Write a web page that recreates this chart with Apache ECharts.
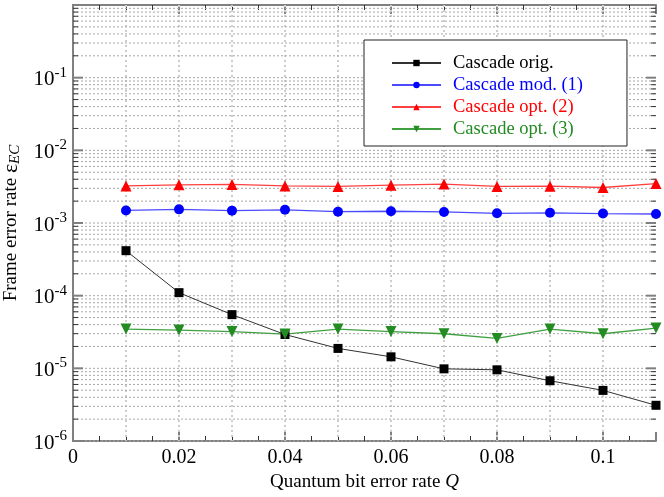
<!DOCTYPE html>
<html>
<head>
<meta charset="utf-8">
<script src="https://cdn.jsdelivr.net/npm/echarts@6/dist/echarts.min.js"></script>
<style>html,body{margin:0;padding:0;background:#fff;}#c{width:664px;height:497px;}</style>
</head>
<body>
<div id="c"></div>
<script>
const qValues = [0.01, 0.02, 0.03, 0.04, 0.05, 0.06, 0.07, 0.08, 0.09, 0.10, 0.11];
const cascadeOrig = [4.16e-4, 1.10e-4, 5.48e-5, 2.92e-5, 1.88e-5, 1.44e-5, 9.84e-6, 9.54e-6, 6.75e-6, 4.97e-6, 3.10e-6];
const cascadeMod1 = [1.49e-3, 1.54e-3, 1.48e-3, 1.52e-3, 1.43e-3, 1.45e-3, 1.42e-3, 1.36e-3, 1.38e-3, 1.35e-3, 1.33e-3];
const cascadeOpt2 = [3.24e-3, 3.35e-3, 3.39e-3, 3.24e-3, 3.19e-3, 3.32e-3, 3.43e-3, 3.19e-3, 3.21e-3, 3.08e-3, 3.49e-3];
const cascadeOpt3 = [3.47e-5, 3.36e-5, 3.21e-5, 2.96e-5, 3.47e-5, 3.21e-5, 2.99e-5, 2.58e-5, 3.47e-5, 2.99e-5, 3.58e-5];
const seriesNames = ['Cascade orig.', 'Cascade mod. (1)', 'Cascade opt. (2)', 'Cascade opt. (3)'];
const xTickLabels = ['0', '0.02', '0.04', '0.06', '0.08', '0.1'];
const yDecades = [-6, -5, -4, -3, -2, -1];
const xGridValues = [0.01, 0.02, 0.03, 0.04, 0.05, 0.06, 0.07, 0.08, 0.09, 0.10];

const FONT = 'Liberation Serif';
const AXIS_COLOR = '#808080';

const yGrid = [];
yDecades.forEach(function (d) {
  for (let m = 1; m <= 9; m++) yGrid.push([m, m * Math.pow(10, d)]);
});

function pairs(vals) { return qValues.map(function (q, i) { return [q, vals[i]]; }); }

const chart = echarts.init(document.getElementById('c'), null, {renderer: 'canvas'});

const xAxisBase = {
  type: 'value', min: 0, max: 0.11, interval: 0.02,
  axisLine: {show: true, onZero: false, lineStyle: {color: AXIS_COLOR, width: 2}},
  axisTick: {show: true, inside: true, length: 9, lineStyle: {color: AXIS_COLOR, width: 2}},
  minorTick: {show: true, splitNumber: 4, length: 5, lineStyle: {color: '#333', width: 1}},
  splitLine: {show: false}
};

chart.setOption({
  animation: false,
  backgroundColor: '#fff',
  grid: {left: 73, right: 8, top: 5, bottom: 56, containLabel: false, outerBoundsMode: 'none'},
  legend: {
    orient: 'vertical', left: 364, top: 40,
    padding: [13, 44, 7, 27],
    itemGap: 2, itemWidth: 49, itemHeight: 8,
    borderColor: '#222', borderWidth: 1, backgroundColor: '#fff',
    textStyle: {fontFamily: FONT, fontSize: 18.5, lineHeight: 20, padding: [0, 0, 0, 7]},
    data: [
      {name: seriesNames[0], textStyle: {color: '#000'}},
      {name: seriesNames[1], textStyle: {color: '#0000ff'}},
      {name: seriesNames[2], textStyle: {color: '#ff0000'}},
      {name: seriesNames[3], textStyle: {color: '#228b22'}}
    ]
  },
  xAxis: [
    Object.assign({}, xAxisBase, {
      position: 'bottom',
      name: '{a|Quantum bit error rate }{i|Q}',
      nameLocation: 'middle', nameGap: 20,
      nameTextStyle: {rich: {
        a: {fontFamily: FONT, fontSize: 19, color: '#000'},
        i: {fontFamily: FONT, fontSize: 19, fontStyle: 'italic', color: '#000'}
      }},
      axisLabel: {
        margin: 7, fontFamily: FONT, fontSize: 20, color: '#000',
        formatter: function (v) {
          const k = Math.round(v / 0.02);
          if (Math.abs(v - k * 0.02) > 1e-9) return '';
          return xTickLabels[k] !== undefined ? xTickLabels[k] : '';
        }
      }
    }),
    Object.assign({}, xAxisBase, {position: 'top', axisLabel: {show: false}})
  ],
  yAxis: [
    {
      type: 'log', min: 1e-6, max: 1, logBase: 10, position: 'left',
      axisLine: {show: true, lineStyle: {color: AXIS_COLOR, width: 2}},
      axisTick: {show: false},
      splitLine: {show: false},
      name: '{a|Frame error rate }{e|ε}{s|EC}',
      nameLocation: 'middle', nameGap: 45, nameRotate: 90,
      nameTextStyle: {rich: {
        a: {fontFamily: FONT, fontSize: 19, color: '#000'},
        e: {fontFamily: FONT, fontSize: 22, color: '#000'},
        s: {fontFamily: FONT, fontSize: 15, fontStyle: 'italic', color: '#000', verticalAlign: 'bottom', padding: [8, 0, 0, 0]}
      }},
      axisLabel: {
        margin: 6,
        formatter: function (v) {
          const e = Math.round(Math.log10(v));
          if (e === 0) return '';
          return '{b|10}{e|' + e + '}';
        },
        rich: {
          b: {fontFamily: FONT, fontSize: 21, color: '#000', verticalAlign: 'bottom', padding: [4, 0, 0, 0]},
          e: {fontFamily: FONT, fontSize: 15, color: '#000', verticalAlign: 'top'}
        }
      }
    },
    {
      type: 'log', min: 1e-6, max: 1, logBase: 10, position: 'right',
      axisLine: {show: true, lineStyle: {color: AXIS_COLOR, width: 2}},
      axisTick: {show: false}, axisLabel: {show: false}, splitLine: {show: false}
    }
  ],
  series: [
    {
      type: 'custom', silent: true, z: 1, xAxisIndex: 0, yAxisIndex: 0,
      data: xGridValues.map(function (x) { return [x, 1e-3]; }),
      renderItem: function (params, api) {
        const cs = params.coordSys;
        const x = api.coord([api.value(0), 1e-3])[0];
        return {type: 'line', shape: {x1: x, y1: cs.y, x2: x, y2: cs.y + cs.height},
          style: {stroke: '#cccccc', lineWidth: 2, lineDash: [2, 3]}};
      }
    },
    {
      type: 'custom', silent: true, z: 1, xAxisIndex: 0, yAxisIndex: 0,
      data: yGrid.map(function (g) { return [0.05, g[1], g[0]]; }),
      renderItem: function (params, api) {
        const cs = params.coordSys;
        const y = api.coord([0.05, api.value(1)])[1];
        const major = api.value(2) === 1;
        const len = major ? 10 : 5;
        const children = [
          {type: 'line', shape: {x1: cs.x, y1: y, x2: cs.x + cs.width, y2: y},
            style: {stroke: '#a8a8a8', lineWidth: 1, lineDash: [2, 2]}},
          {type: 'line', shape: {x1: cs.x, y1: y, x2: cs.x + len, y2: y},
            style: {stroke: major ? AXIS_COLOR : '#333', lineWidth: major ? 2 : 1}},
          {type: 'line', shape: {x1: cs.x + cs.width - len, y1: y, x2: cs.x + cs.width, y2: y},
            style: {stroke: major ? AXIS_COLOR : '#333', lineWidth: major ? 2 : 1}}
        ];
        return {type: 'group', children: children};
      }
    },
    {
      name: seriesNames[0], type: 'line', z: 5, data: pairs(cascadeOrig),
      symbol: 'rect', symbolSize: 9, color: '#000',
      lineStyle: {color: '#333', width: 1}, itemStyle: {color: '#000'}
    },
    {
      name: seriesNames[1], type: 'line', z: 5, data: pairs(cascadeMod1),
      symbol: 'circle', symbolSize: 10, color: '#0000ff',
      lineStyle: {color: '#4a4aff', width: 1.3}, itemStyle: {color: '#0000ff'}
    },
    {
      name: seriesNames[2], type: 'line', z: 5, data: pairs(cascadeOpt2),
      symbol: 'triangle', symbolSize: 11, color: '#ff0000',
      lineStyle: {color: '#ff4040', width: 1.3}, itemStyle: {color: '#ff0000'}
    },
    {
      name: seriesNames[3], type: 'line', z: 5, data: pairs(cascadeOpt3),
      symbol: 'triangle', symbolRotate: 180, symbolSize: 11, color: '#228b22',
      lineStyle: {color: '#40a040', width: 1.3}, itemStyle: {color: '#228b22'}
    }
  ]
});
</script>
</body>
</html>
